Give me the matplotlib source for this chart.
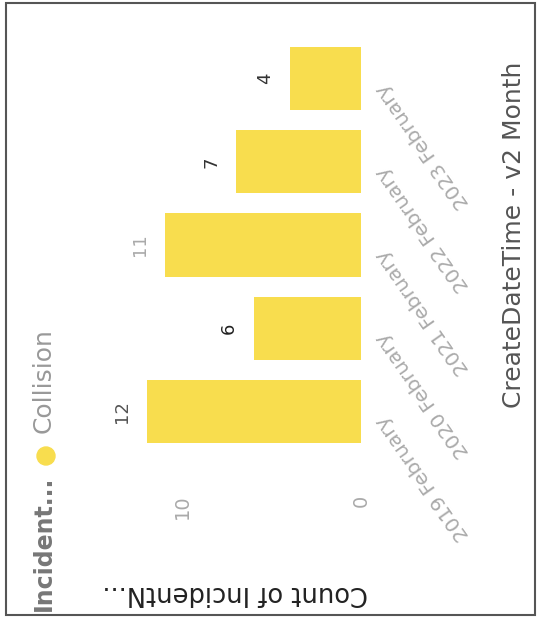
import matplotlib.pyplot as plt
from matplotlib.patches import Rectangle, Ellipse

# données
mois = ['2019 February', '2020 February', '2021 February', '2022 February', '2023 February']
nb_collisions = [12, 6, 11, 7, 4]
couleurs_valeurs = ['#555555', '#222222', '#aaaaaa', '#333333', '#333333']
graduations = [0, 10]

JAUNE = '#F8DD4E'
POLICE = 'DejaVu Sans'
W, H = 539, 624

fig = plt.figure(figsize=(W / 100, H / 100), dpi=100)
fig.patch.set_facecolor('white')

# zone du graphe (en pixels : x 129 -> 361, y 37 -> 453)
ax = fig.add_axes([129 / W, 1 - 453 / H, 232 / W, 416 / H])
pos = list(range(len(mois)))
ax.barh(pos, nb_collisions, height=0.76, color=JAUNE)
ax.set_xlim(13, 0)
ax.set_ylim(-0.5, len(mois) - 0.5)
for s in ax.spines.values():
    s.set_visible(False)

# graduations de valeurs (en bas, tournées)
ax.set_xticks(graduations)
ax.set_xticklabels([str(g) for g in graduations], rotation=90,
                   color='#aaaaaa', fontsize=14, family=POLICE)
ax.tick_params(axis='x', length=0, pad=30)

# étiquettes des mois (à droite, inclinées)
ax.set_yticks([])
for p, m in zip(pos, mois):
    ax.text(1.085, p - 0.08, m, transform=ax.get_yaxis_transform(),
            rotation=125, rotation_mode='anchor', ha='right', va='center',
            color='#aaaaaa', fontsize=14.5, family=POLICE)

# valeurs au bout des barres
for p, v, c in zip(pos, nb_collisions, couleurs_valeurs):
    ax.annotate(str(v), (v, p), xytext=(-18, 0), textcoords='offset points',
                rotation=90, ha='center', va='center', color=c,
                fontsize=13, family=POLICE)

# titres des axes
fig.text(235 / W, 1 - 593 / H, 'Count of IncidentN...', rotation=180,
         ha='center', va='center', color='#222222', fontsize=18.5, family=POLICE)
fig.text(514 / W, 1 - 235 / H, 'CreateDateTime - v2 Month', rotation=90,
         ha='center', va='center', color='#555555', fontsize=18, family=POLICE)

# légende
fig.text(44 / W, 1 - 543 / H, 'Incident...', rotation=90, ha='center', va='center',
         color='#777777', fontsize=17, fontweight='bold', family=POLICE)
fig.add_artist(Ellipse((46 / W, 1 - 456 / H), 18 / W, 18 / H,
                       transform=fig.transFigure, color=JAUNE))
fig.text(44 / W, 1 - 381 / H, 'Collision', rotation=90, ha='center', va='center',
         color='#999999', fontsize=18, family=POLICE)

# cadre
fig.add_artist(Rectangle((6 / W, 1 - 615 / H), 529 / W, 612 / H,
                         transform=fig.transFigure, fill=False,
                         edgecolor='#555555', lw=1.5))

fig.savefig('out.png', dpi=100)
